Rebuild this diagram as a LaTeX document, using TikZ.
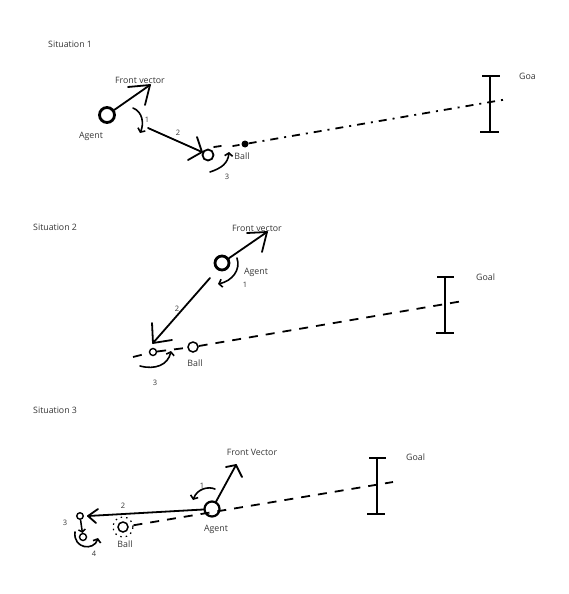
\documentclass[tikz,border=0pt]{standalone}
\usepackage{fontspec}
\setmainfont{Open Sans}
\usetikzlibrary{arrows.meta}
\definecolor{txt}{RGB}{55,55,55}
\begin{document}
\begin{tikzpicture}[x=1pt,y=-1pt,
  lbl/.style={font=\fontsize{8.8}{10}\selectfont, text=txt, inner sep=0pt},
  num/.style={font=\fontsize{7.5}{9}\selectfont, text=txt, inner sep=0pt},
  agent/.style={circle, draw, line width=2.8pt, minimum size=15pt, inner sep=0pt},
  ballc/.style={circle, draw, line width=1.5pt, minimum size=10pt, inner sep=0pt},
  smallc/.style={circle, draw, line width=1.4pt, minimum size=6.5pt, inner sep=0pt},
  vec/.style={line width=1.8pt, line cap=round},
  rot/.style={line width=1.6pt, line cap=round, -{Straight Barb[length=3pt,width=8pt]}},
  post/.style={line width=2pt},
  path1/.style={line width=1.8pt, dash pattern=on 8pt off 6pt on 2pt off 6pt},
  path2/.style={line width=1.8pt, dash pattern=on 9pt off 8pt},
]
\fill[white] (0,0) rectangle (568,594);
\useasboundingbox (0,0) rectangle (568,594);

% ---------------- Situation 1 ----------------
\node[lbl, anchor=west] (t1) at (48,44) {Situation 1};
\node[agent] (agentA) at (107,115) {};
\node[lbl] (agentAl) at (91,136) {Agent};
\coordinate (fvA) at (150,85);
\draw[vec] (agentA) -- (fvA);
\draw[vec] (fvA) -- ++(-22,2);
\draw[vec] (fvA) -- ++(-5,20);
\node[lbl] (fvAl) at (140,80) {Front vector};
\draw[rot] (133,108) .. controls (143,112) and (144,124) .. (140,133);
\node[num] (r1A) at (147,120) {1};
\coordinate (l2sA) at (148,128);
\node[ballc, minimum size=11pt, line width=1.8pt] (ballA) at (208,155) {};
\coordinate (l2tA) at (202,152);
\draw[vec] (l2sA) -- (l2tA);
\draw[vec] (l2tA) -- (197,137);
\draw[vec] (l2tA) -- (188,160);
\node[num] (n2A) at (178,133) {2};
\draw[vec] (214,147) -- (221,146);
\draw[rot] (210,172) .. controls (222,168) and (228,163) .. (229,152);
\node[num] (n3A) at (227,177) {3};
\node[lbl] (ballAl) at (242,156) {Ball};
\node[circle, fill, minimum size=7pt, inner sep=0pt] (dotA) at (245,144) {};
\draw[vec] (233,146) -- (239,145);
\coordinate (gAt) at (490,76);
\coordinate (gAb) at (490,132);
\draw[post] (gAt) -- (gAb);
\draw[post] (482,76) -- (500,76);
\draw[post] (480,132) -- (499,132);
\coordinate (gAe) at (508,99);
\draw[path1] (dotA) -- (gAe);
\node[lbl, anchor=west] (goalAl) at (519,76) {Goa};

% ---------------- Situation 2 ----------------
\node[lbl, anchor=west] (t2) at (33,227) {Situation 2};
\node[agent, minimum size=14pt] (agentB) at (222,263) {};
\coordinate (fvB) at (267,232);
\draw[vec] (agentB) -- (fvB);
\draw[vec] (fvB) -- (247,233);
\draw[vec] (fvB) -- (262,252);
\node[lbl] (fvBl) at (257,228) {Front vector};
\node[lbl] (agentBl) at (256,272) {Agent};
\node[num] (n1B) at (245,285) {1};
\draw[rot] (237,258) .. controls (241,270) and (232,281) .. (218,284);
\coordinate (l2sB) at (210,278);
\coordinate (l2tB) at (153,343);
\draw[vec] (l2sB) -- (l2tB);
\draw[vec] (l2tB) -- (152,323);
\draw[vec] (l2tB) -- (172,340);
\node[num] (n2B) at (177,309) {2};
\node[smallc, minimum size=7pt] (newB) at (153,352) {};
\node[ballc] (ballB) at (193,347) {};
\node[lbl] (ballBl) at (195,363) {Ball};
\draw[rot] (140,366) .. controls (155,370) and (168,365) .. (171,351);
\node[num] (n3B) at (155,383) {3};
\coordinate (sB) at (133,357);
\coordinate (gBe) at (463,301);
\draw[path2] (sB) -- (newB);
\draw[path2] (newB) -- (ballB);
\draw[path2] (ballB) -- (gBe);
\coordinate (gBt) at (445,277);
\coordinate (gBb) at (445,333);
\draw[post] (gBt) -- (gBb);
\draw[post] (437,277) -- (454,277);
\draw[post] (436,333) -- (454,333);
\node[lbl, anchor=west] (goalBl) at (476,277) {Goal};

% ---------------- Situation 3 ----------------
\node[lbl, anchor=west] (t3) at (33,410) {Situation 3};
\node[agent, line width=2.2pt] (agentC) at (212,509) {};
\node[lbl] (agentCl) at (216,529) {Agent};
\coordinate (fvC) at (236,465);
\draw[vec] (agentC) -- (fvC);
\draw[vec] (fvC) -- (226,467);
\draw[vec] (fvC) -- (242,477);
\node[lbl] (fvCl) at (252,452) {Front Vector};
\draw[rot] (215,489) .. controls (208,486) and (197,489) .. (193,500);
\node[num] (n1C) at (202,486) {1};
\coordinate (l2tC) at (88,516);
\draw[vec] (agentC) -- (l2tC);
\draw[vec] (l2tC) -- (98,509);
\draw[vec] (l2tC) -- (96,523);
\node[num] (n2C) at (123,506) {2};
\node[smallc] (c1C) at (80,516) {};
\node[num] (n3C) at (65,523) {3};
\node[smallc, minimum size=7pt] (c2C) at (83,537) {};
\draw[line width=1.5pt, -{Straight Barb[length=2.5pt,width=7pt]}] (c1C) -- (c2C);
\draw[rot] (75,532) .. controls (73,549) and (94,551) .. (98,538);
\node[num] (n4C) at (94,554) {4};
\node[ballc] (ballC) at (123,527) {};
\node[circle, draw, line width=1.2pt, dash pattern=on 1.5pt off 4pt, minimum size=20pt, inner sep=0pt] (haloC) at (ballC) {};
\node[lbl] (ballCl) at (125,544) {Ball};
\coordinate (gCe) at (393,482);
\draw[path2] (haloC) -- (gCe);
\coordinate (gCt) at (377,458);
\coordinate (gCb) at (377,514);
\draw[post] (gCt) -- (gCb);
\draw[post] (369,458) -- (386,458);
\draw[post] (367,514) -- (385,514);
\node[lbl, anchor=west] (goalCl) at (406,457) {Goal};
\end{tikzpicture}
\end{document}
